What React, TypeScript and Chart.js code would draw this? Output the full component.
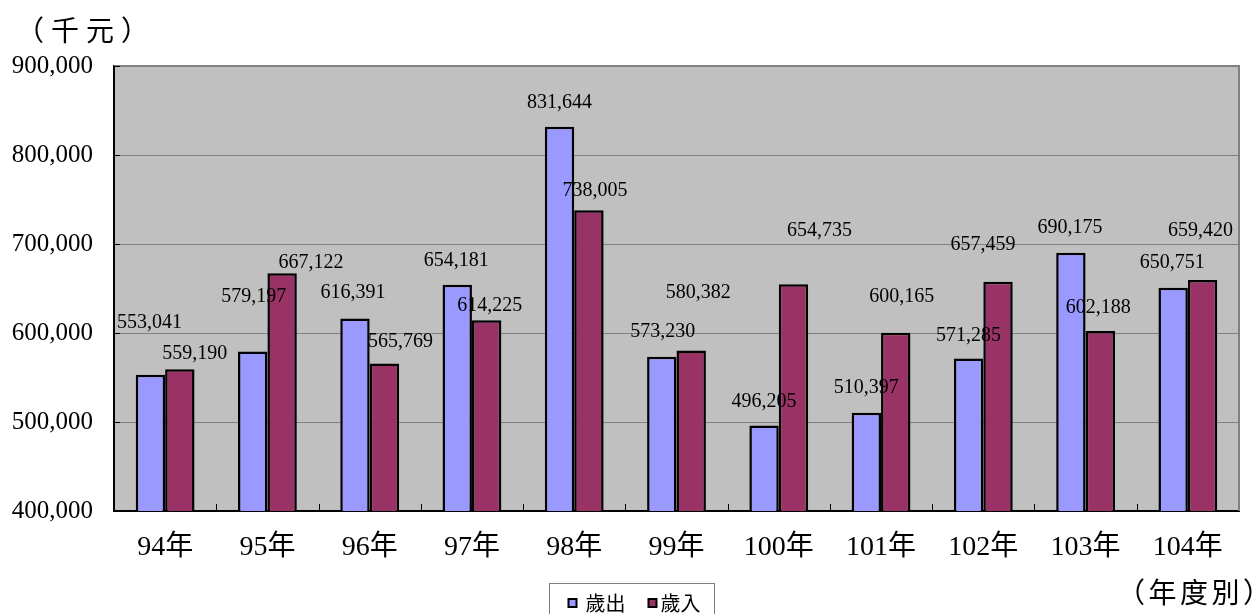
import { useEffect, useRef } from "react";
import { Chart, registerables } from "chart.js";

Chart.register(...registerables);

const years = ["94年", "95年", "96年", "97年", "98年", "99年", "100年", "101年", "102年", "103年", "104年"];
const expenditure = [553041, 579197, 616391, 654181, 831644, 573230, 496205, 510397, 571285, 690175, 650751];
const revenue = [559190, 667122, 565769, 614225, 738005, 580382, 654735, 600165, 657459, 602188, 659420];
const seriesNames = ["歲出", "歲入"];
const yMin = 400000;
const yMax = 900000;
const yStep = 100000;
const yUnit = "（千元）";
const xUnit = "（年度別）";

// label placement nudges (pixels, relative to the bar top centre), mimicking hand-placed labels
const expLabelNudge: [number, number][] = [
  [-1, -52], [1, -55], [-2, -26], [-1, -24], [0, -24], [1, -25], [0, -24], [0, -25], [0, -23], [-1, -25], [-1, -25],
];
const revLabelNudge: [number, number][] = [
  [15, -16], [29, -11], [16, -22], [3, -15], [6, -19], [7, -58], [26, -54], [6, -36], [-15, -37], [-2, -23], [-2, -49],
];

const SERIF = "'Liberation Serif', 'Noto Sans CJK TC', serif";
const CJK = "'Noto Sans CJK TC', 'Liberation Serif', sans-serif";
const BLUE = "#9999ff";
const MAROON = "#993366";

const fmt = (v: number) => v.toLocaleString("en-US");

function drawSpaced(ctx: CanvasRenderingContext2D, text: string, firstCenter: number, pitch: number, y: number) {
  const chars = Array.from(text);
  chars.forEach((c, i) => {
    ctx.fillText(c, firstCenter + i * pitch, y);
  });
}

const customPlugin = {
  id: "customDecor",
  beforeDraw(chart: any) {
    const { ctx, chartArea: a } = chart;
    ctx.save();
    ctx.fillStyle = "#c0c0c0";
    ctx.fillRect(a.left, a.top, a.right - a.left, a.bottom - a.top);
    ctx.restore();
  },
  afterDraw(chart: any) {
    const { ctx, chartArea: a, scales } = chart;
    ctx.save();
    // top & right frame
    ctx.strokeStyle = "#808080";
    ctx.lineWidth = 2;
    ctx.beginPath();
    ctx.moveTo(a.left, a.top);
    ctx.lineTo(a.right, a.top);
    ctx.lineTo(a.right, a.bottom);
    ctx.stroke();

    // inward tick marks
    ctx.strokeStyle = "#000";
    ctx.lineWidth = 1;
    const xs = scales.x;
    for (let i = 1; i < years.length; i++) {
      const px = Math.round((xs.getPixelForTick(i - 1) + xs.getPixelForTick(i)) / 2) + 0.5;
      ctx.beginPath();
      ctx.moveTo(px, a.bottom);
      ctx.lineTo(px, a.bottom - 7);
      ctx.stroke();
    }
    const ys = scales.y;
    ys.ticks.forEach((t: any) => {
      const py = Math.round(ys.getPixelForValue(t.value)) + 0.5;
      ctx.beginPath();
      ctx.moveTo(a.left, py);
      ctx.lineTo(a.left + 6, py);
      ctx.stroke();
    });

    // data labels
    ctx.fillStyle = "#000";
    ctx.font = `20px ${SERIF}`;
    ctx.textAlign = "center";
    ctx.textBaseline = "middle";
    const nudges = [expLabelNudge, revLabelNudge];
    chart.data.datasets.forEach((ds: any, di: number) => {
      const meta = chart.getDatasetMeta(di);
      meta.data.forEach((bar: any, i: number) => {
        const [dx, dy] = nudges[di][i];
        ctx.fillText(fmt(ds.data[i]), bar.x + dx, bar.y + dy);
      });
    });

    // unit labels
    ctx.font = `28px ${CJK}`;
    ctx.textAlign = "center";
    ctx.textBaseline = "middle";
    drawSpaced(ctx, yUnit, 30, 35, 30);
    drawSpaced(ctx, xUnit, 1131, 31.5, 592);

    // legend
    const boxW = 165;
    const boxX = Math.round(chart.width / 2 - boxW / 2 + 2) + 0.5;
    const boxY = 583.5;
    ctx.strokeStyle = "#808080";
    ctx.lineWidth = 1;
    ctx.fillStyle = "#ffffff";
    ctx.fillRect(boxX, boxY, boxW, 40);
    ctx.strokeRect(boxX, boxY, boxW, 40);
    const items = [
      { sq: 19, tx: 36 },
      { sq: 99, tx: 111 },
    ];
    ctx.font = `20px ${CJK}`;
    ctx.textAlign = "left";
    ctx.textBaseline = "middle";
    chart.data.datasets.forEach((ds: any, di: number) => {
      const it = items[di];
      ctx.fillStyle = ds.backgroundColor;
      ctx.fillRect(boxX + it.sq, 599, 8, 8);
      ctx.strokeStyle = "#000";
      ctx.lineWidth = 2;
      ctx.strokeRect(boxX + it.sq, 599, 8, 8);
      ctx.fillStyle = "#000";
      drawSpaced(ctx, ds.label, boxX + it.tx, 20, 603);
    });
    ctx.restore();
  },
};

export default function App() {
  const ref = useRef<HTMLCanvasElement | null>(null);
  useEffect(() => {
    if (!ref.current) return;
    const chart = new Chart(ref.current, {
      type: "bar",
      data: {
        labels: years,
        datasets: [
          {
            label: seriesNames[0],
            data: expenditure,
            backgroundColor: BLUE,
            borderColor: "#000",
            borderWidth: 2.5,
            borderSkipped: false,
          },
          {
            label: seriesNames[1],
            data: revenue,
            backgroundColor: MAROON,
            borderColor: "#000",
            borderWidth: 2.5,
            borderSkipped: false,
          },
        ],
      },
      options: {
        animation: false,
        responsive: false,
        layout: { padding: { top: 66, right: 19, left: 0, bottom: 0 } },
        datasets: { bar: { categoryPercentage: 0.575, barPercentage: 1 } },
        plugins: { legend: { display: false }, tooltip: { enabled: false } },
        scales: {
          x: {
            grid: { display: false, drawTicks: false },
            border: { color: "#000", width: 2 },
            ticks: { color: "#000", font: { family: SERIF, size: 28 }, padding: 20, maxRotation: 0 },
            afterFit: (s: any) => {
              s.height = 103;
            },
          },
          y: {
            min: yMin,
            max: yMax,
            grid: { color: "#808080", lineWidth: 1, drawTicks: false },
            border: { color: "#000", width: 2 },
            ticks: {
              stepSize: yStep,
              color: "#000",
              font: { family: SERIF, size: 25 },
              padding: 21,
              callback: (v: any) => fmt(Number(v)),
            },
            afterFit: (s: any) => {
              s.width = 114;
            },
          },
        },
      },
      plugins: [customPlugin],
    });
    return () => chart.destroy();
  }, []);
  return (
    <div style={{ position: "fixed", left: 0, top: 0, width: 1258, height: 614, background: "#fff" }}>
      <canvas ref={ref} width={1258} height={614} />
    </div>
  );
}
